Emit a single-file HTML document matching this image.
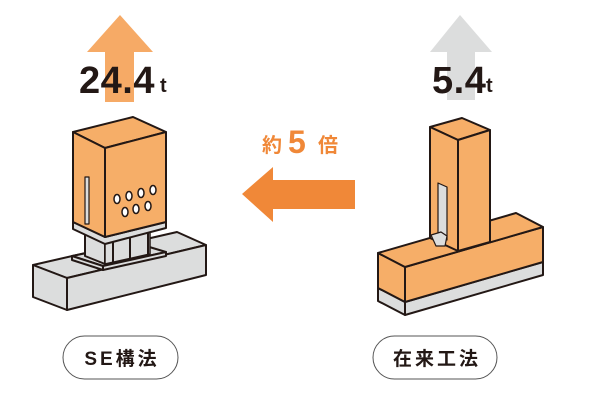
<!DOCTYPE html>
<html><head><meta charset="utf-8"><style>
html,body{margin:0;padding:0;background:#fff;}
svg{display:block;}
text{font-family:"Liberation Sans","Noto Sans CJK JP",sans-serif;font-weight:bold;}
</style></head><body>
<svg width="600" height="400" viewBox="0 0 600 400" xmlns="http://www.w3.org/2000/svg">
<!-- top arrows -->
<polygon points="120,15 153,52 134,52 134,102 105,102 105,52 87,52" fill="#F6AA66"/>
<polygon points="460,15 492,52 475,52 475,100 447,100 447,52 430,52" fill="#DCDDDD"/>
<text x="79" y="93" font-size="38" fill="#231815" letter-spacing="0.5">24.4</text>
<text x="160" y="92" font-size="20" fill="#231815">t</text>
<text x="432" y="93" font-size="38" fill="#231815" letter-spacing="0.5">5.4</text>
<text x="486" y="92" font-size="20" fill="#231815">t</text>
<!-- middle -->
<text x="262" y="152" font-size="20" fill="#F08838">約</text>
<text x="288" y="153" font-size="32" fill="#F08838">5</text>
<text x="318" y="152" font-size="20" fill="#F08838">倍</text>
<polygon points="242,194 273,167 273,180 355,180 355,209 273,209 273,222" fill="#F08838"/>
<g stroke="#231815" stroke-width="2" stroke-linejoin="round">
<!-- left foundation -->
<polygon points="33,265 177,232 206,245 67,278" fill="#DCDDDD"/>
<polygon points="67,278 206,245 206,275 67,310" fill="#DCDDDD"/>
<polygon points="33,265 67,278 67,310 33,297" fill="#DCDDDD"/>
<!-- base plate -->
<polygon points="72,256 136,243 166,252 103,266" fill="#DCDDDD"/>
<polygon points="72,256 103,266 103,270 72,260" fill="#DCDDDD"/>
<polygon points="103,266 166,252 166,256 103,270" fill="#DCDDDD"/>
<!-- steel -->
<polygon points="85,228 105,237 105,264 85,256" fill="#DCDDDD"/>
<polygon points="105,237 150,226 150,254 105,264" fill="#DCDDDD" stroke-width="1.5"/>
<line x1="113" y1="240" x2="113" y2="263"/>
<line x1="130" y1="236" x2="130" y2="259"/>
<line x1="148" y1="231" x2="148" y2="255"/>
<!-- post -->
<polygon points="73,222 105,237 166,222 166,228 105,244 73,229" fill="#DCDDDD"/>
<polygon points="73,132 133,117 166,132 105,148" fill="#F6AE68"/>
<polygon points="73,132 105,148 105,237 73,222" fill="#F6AE68"/>
<polygon points="105,148 166,132 166,222 105,237" fill="#F6AE68"/>
<rect x="85" y="177" width="4" height="47" fill="#DCDDDD" stroke-width="1.2"/>
<g fill="#fff" stroke-width="1.5">
<ellipse cx="117" cy="199" rx="3" ry="4.5"/><ellipse cx="129" cy="196" rx="3" ry="4.5"/>
<ellipse cx="141" cy="193" rx="3" ry="4.5"/><ellipse cx="153" cy="190" rx="3" ry="4.5"/>
<ellipse cx="125" cy="212" rx="3" ry="4.5"/><ellipse cx="136" cy="209" rx="3" ry="4.5"/>
<ellipse cx="148" cy="206" rx="3" ry="4.5"/>
</g>
<!-- right beam -->
<polygon points="378,288 405,302 405,315 378,301" fill="#DCDDDD"/>
<polygon points="405,302 543,262 543,275 405,315" fill="#DCDDDD"/>
<polygon points="378,253 405,267 405,302 378,288" fill="#F6AE68"/>
<polygon points="405,267 543,227 543,262 405,302" fill="#F6AE68"/>
<polygon points="378,253 516,213 543,227 405,267" fill="#F6AE68"/>
<!-- column -->
<polygon points="430,127 462,118 490,130 458,140" fill="#F6AE68"/>
<polygon points="430,127 458,140 458,251 430,238" fill="#F6AE68"/>
<polygon points="458,140 490,130 490,242 458,251" fill="#F6AE68"/>
<polygon points="438,183 447,187 447,240 438,236" fill="#DCDDDD" stroke-width="1.2"/>
<polygon points="431,235 441,232 447,236 445,246 436,246" fill="#DCDDDD" stroke-width="1.2"/>
</g>
<!-- pills -->
<rect x="63" y="336" width="115" height="43" rx="21.5" fill="#fff" stroke="#555" stroke-width="1"/>
<text x="122" y="365" font-size="19" fill="#231815" text-anchor="middle" letter-spacing="3">SE構法</text>
<rect x="373" y="336" width="124" height="43" rx="21.5" fill="#fff" stroke="#555" stroke-width="1"/>
<text x="437" y="365" font-size="19" fill="#231815" text-anchor="middle" letter-spacing="3">在来工法</text>
</svg>
</body></html>
